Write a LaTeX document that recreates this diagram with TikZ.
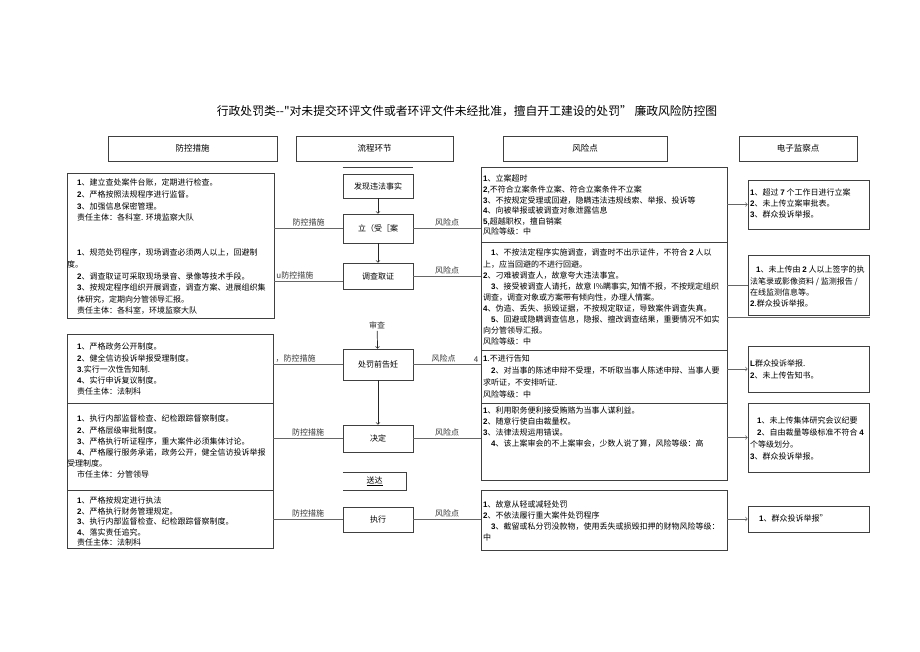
\documentclass[tikz,border=0pt]{standalone}
\usepackage{fontspec}
\setmainfont{Noto Sans CJK SC}
\setsansfont{Liberation Sans}
\usepackage{tikz}

\newcommand\nb[1]{\textsf{\bfseries #1}}

\begin{document}
\begin{tikzpicture}[x=1pt, y=-1pt,
    box/.style={draw=black!75, line width=0.6pt, inner sep=0pt},
    head/.style={box, minimum height=25pt, font=\fontsize{8.5}{10}\selectfont},
    proc/.style={box, minimum width=70pt, font=\fontsize{8}{10}\selectfont},
    sec/.style={box},
    txt/.style={anchor=north west, inner sep=0pt, align=left, font=\fontsize{8}{11}\selectfont},
    lbl/.style={inner sep=2pt, font=\fontsize{8}{9}\selectfont, text=black!80},
    link/.style={draw=black!60, line width=0.7pt},
  ]
    \useasboundingbox (0,0) rectangle (920,651);
    \node[font=\fontsize{11.8}{13}\selectfont\addfontfeature{Ligatures=TeXOff}] (title) at (467,111) {行政处罚类--"对未提交环评文件或者环评文件未经批准，擅自开工建设的处罚” 廉政风险防控图};

    \node[head, minimum width=169pt] (hm) at (192.5,148.5) {防控措施};
    \node[head, minimum width=157pt] (hp) at (374.5,148.5) {流程环节};
    \node[head, minimum width=164pt] (hr) at (585,148.5) {风险点};
    \node[head, minimum width=118pt] (he) at (798,148.5) {电子监察点};

    \node[proc, minimum height=24pt] (fx) at (378,186) {发现违法事实};
    \node[proc, minimum height=29pt] (la) at (378,228.5) {立（受［案};
    \node[proc, minimum height=26pt] (dc) at (378,276) {调查取证};
    \node[lbl] (sc) at (377,325) {审查};
    \node[proc, minimum height=31pt] (gz) at (378,364.5) {处罚前告妊};
    \node[proc, minimum height=27pt] (jd) at (378,438.5) {决定};
    \node[inner sep=0pt, minimum width=63pt, minimum height=18pt, font=\fontsize{8}{10}\selectfont] (sd) at (374.5,481) {\underline{送达}};
    \node[proc, minimum height=25pt] (zx) at (378,519.5) {执行};
    \draw[box] (sd.north west) -- (sd.north east) -- (sd.south east) -- (sd.south west);
    \draw[box] ([yshift=6pt]fx.north west) -- ([yshift=6pt]fx.north east);

    \node[sec, minimum width=207pt, minimum height=145pt] (m1) at (170.5,245.5) {};
    \node[sec, minimum width=206pt, minimum height=69pt] (m2) at (170,368.5) {};
    \node[sec, minimum width=206pt, minimum height=87pt] (m3) at (170,446.5) {};
    \node[sec, minimum width=206pt, minimum height=58pt] (m4) at (170,519) {};
    \node[txt, font=\fontsize{8}{11.6}\selectfont] (m1a) at (77,179) {\nb{1}、建立查处案件台账，定期进行检查。\\ \nb{2}、严格按照法规程序进行监督。\\ \nb{3}、加强信息保密管理。\\ 责任主体：各科室. 环境监察大队};
    \node[txt, font=\fontsize{8}{11.6}\selectfont] (m1b) at (77,249) {\nb{1}、规范处罚程序，现场调查必须两人以上，回避制\\ \hspace*{-10pt}度。\\ \nb{2}、调查取证可采取现场录音、录像等技术手段。\\ \nb{3}、按规定程序组织开展调查，调查方案、进展组织集\\ 体研究，定期向分管领导汇报。\\ 责任主体：各科室，环境监察大队};
    \node[txt, font=\fontsize{8}{11.2}\selectfont] (m2a) at (77,343) {\nb{1}、严格政务公开制度。\\ \nb{2}、健全信访投诉举报受理制度。\\ \nb{3}.实行一次性告知制.\\ \nb{4}、实行申诉复议制度。\\ 责任主体：法制科};
    \node[txt, font=\fontsize{8}{11.2}\selectfont] (m3a) at (77,415) {\nb{1}、执行内部监督检查、纪检跟踪督察制度。\\ \nb{2}、严格层级审批制度。\\ \nb{3}、严格执行听证程序，重大案件必须集体讨论。\\ \nb{4}、严格履行服务承诺，政务公开，健全信访投诉举报\\ \hspace*{-10pt}受理制度。\\ 市任主体：分管领导};
    \node[txt, font=\fontsize{8}{10.5}\selectfont] (m4a) at (77,497) {\nb{1}、严格按规定进行执法\\ \nb{2}、严格执行财务管理规定。\\ \nb{3}、执行内部监督检查、纪检跟踪督察制度。\\ \nb{4}、落实责任追究。\\ 责任主体：法制科};

    \node[sec, minimum width=246pt, minimum height=75pt] (r1) at (604,204.5) {};
    \node[sec, minimum width=246pt, minimum height=108pt] (r2) at (604,296) {};
    \node[sec, minimum width=246pt, minimum height=53pt] (r3) at (604,376.5) {};
    \node[sec, minimum width=246pt, minimum height=77pt] (r4) at (604,441.5) {};
    \node[sec, minimum width=246pt, minimum height=60pt] (r5) at (604,520) {};
    \node[txt, font=\fontsize{8}{10.6}\selectfont] (r1a) at (483,175) {\nb{1}、立案超时\\ \nb{2},不符合立案条件立案、符合立案条件不立案\\ \nb{3}、不按规定受理或回避，隐瞒违法违规线索、举报、投诉等\\ \nb{4}、向被举报或被调查对象泄露信息\\ \nb{5},超越职权，擅自销案\\ 风险等级：中};
    \node[txt, font=\fontsize{8}{11.1}\selectfont] (r2a) at (483,249) {\hspace*{8pt}\nb{1}、不按法定程序实施调查，调查时不出示证件，不符合 \nb{2} 人以\\ 上，应当回避的不进行回避。\\ \nb{2}、刁难被调查人，故意夸大违法事宜。\\ \hspace*{8pt}\nb{3}、接受被调查人请托，故意 I\%瞒事实, 知情不报，不按规定组织\\ 调查，调查对象或方案带有倾向性，办理人情案。\\ \nb{4}、伪造、丢失、损毁证据，不按规定取证，导致案件调查失真。\\ \hspace*{8pt}\nb{5}、回避或隐瞒调查信息，隐报、擅改调查结果，重要情况不如实\\ 向分管领导汇报。\\ 风险等级：中};
    \node[txt, font=\fontsize{8}{11.7}\selectfont] (r3a) at (483,355) {\nb{1}.不进行告知\\ \hspace*{8pt}\nb{2}、对当事的陈述申辩不受理，不听取当事人陈述申辩、当事人要\\ 求听证，不安排听证.\\ 风险等级：中};
    \node[txt, font=\fontsize{8}{11}\selectfont] (r4a) at (483,407) {\nb{1}、利用职务便利接受贿赂为当事人谋利益。\\ \nb{2}、随意行使自由裁量权。\\ \nb{3}、法律法规运用错误。\\ \hspace*{8pt}\nb{4}、该上案审会的不上案审会，少数人说了算，风险等级：高};
    \node[txt, font=\fontsize{8}{11}\selectfont] (r5a) at (483,500) {\nb{1}、故意从轻或减轻处罚\\ \nb{2}、不依法履行重大案件处罚程序\\ \hspace*{8pt}\nb{3}、截留或私分罚没款物，使用丢失或损毁扣押的财物风险等级：\\ 中};

    \node[sec, minimum width=121pt, minimum height=49pt] (e1) at (808.5,204.5) {};
    \node[sec, minimum width=121pt, minimum height=60pt] (e2) at (808.5,285) {};
    \node[sec, minimum width=121pt, minimum height=46pt] (e3) at (808.5,369) {};
    \node[sec, minimum width=121pt, minimum height=69pt] (e4) at (808.5,437.5) {};
    \node[sec, minimum width=121pt, minimum height=26pt] (e5) at (808.5,519) {};
    \node[txt] (e1a) at (750,189) {\nb{1}、超过 \nb{7} 个工作日进行立案\\ \nb{2}、未上传立案审批表。\\ \nb{3}、群众投诉举报。};
    \node[txt, font=\fontsize{8}{11.3}\selectfont] (e2a) at (750,266) {\hspace*{6pt}\nb{1}、未上传由 \nb{2} 人以上签字的执\\ 法笔录或影像资料 / 监测报告 /\\ 在线监测信息等。\\ \nb{2}.群众投诉举报。};
    \node[txt, font=\fontsize{8}{12}\selectfont] (e3a) at (750,360) {\nb{L}群众投诉举报.\\ \nb{2}、未上传告知书。};
    \node[txt, font=\fontsize{8}{11.7}\selectfont] (e4a) at (750,417) {\hspace*{7pt}\nb{1}、未上传集体研究会议纪要\\ \hspace*{7pt}\nb{2}、自由裁量等级标准不符合 \nb{4}\\ 个等级划分。\\ \nb{3}、群众投诉举报。};
    \node[txt] (e5a) at (750,515) {\hspace*{9pt}\nb{1}、群众投诉举报”};

    \draw[link] (m1.east |- la.west) -- (la.west) node[lbl, midway, above] (pl1) {防控措施};
    \coordinate (dcl) at ([yshift=-5pt]dc.west);
    \draw[link] (dcl -| m1.east) -- (dcl) node[lbl, pos=0.3, above] (pl2) {u防控措施};
    \draw[link] (m2.east |- gz.west) -- (gz.west) node[lbl, pos=0.32, above] (pl3) {，防控措施};
    \draw[link] (m3.east |- jd.west) -- (jd.west) node[lbl, midway, above] (pl4) {防控措施};
    \draw[link] (m4.east |- zx.west) -- (zx.west) node[lbl, midway, above] (pl5) {防控措施};

    \draw[link] (la.east) -- (la.east -| r1.west) node[lbl, midway, above] (rl1) {风险点};
    \draw[link] (dc.east) -- (dc.east -| r2.west) node[lbl, midway, above] (rl2) {风险点};
    \draw[link] (gz.east) -- (gz.east -| r3.west) node[lbl, pos=0.45, above] (rl3) {风险点} node[lbl, pos=0.93, above] (rl3n) {4};
    \draw[link] (jd.east) -- (jd.east -| r4.west) node[lbl, midway, above] (rl4) {风险点};
    \draw[link] (zx.east) -- (zx.east -| r5.west) node[lbl, midway, above] (rl5) {风险点};

    \draw[link, ->] (r1.east |- e1.west) -- (e1.west);
    \draw[link] (r2.east |- e2.west) -- (e2.west);
    \coordinate (e2end) at (870,317);
    \draw[link] (e2end -| r2.east) -- (e2end);
    \draw[link, ->] (r3.east |- e3.west) -- (e3.west);
    \draw[link, ->] (r4.east |- e4.west) -- (e4.west);
    \draw[link, ->] (r5.east |- e5.west) -- (e5.west);

    \draw[link, draw=black!85, ->] (fx) -- (la);
    \draw[link, draw=black!85, ->] (la) -- (dc);
    \draw[link, draw=black!85, ->] (sc) -- (gz);
    \draw[link, draw=black!85, ->] (gz) -- (jd);
  \end{tikzpicture}
\end{document}
